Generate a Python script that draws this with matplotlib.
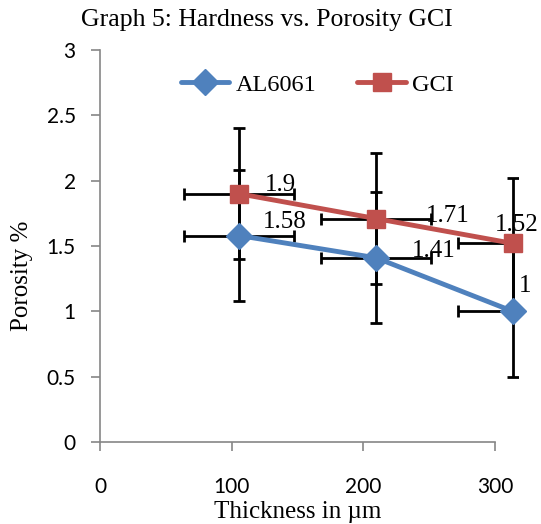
import matplotlib
matplotlib.use("Agg")
import matplotlib.pyplot as plt
from matplotlib.transforms import Bbox, TransformedBbox

# data
thickness = [100, 200, 300]
al6061 = [1.58, 1.41, 1.0]
gci = [1.9, 1.71, 1.52]
y_err = 0.5
x_err = 40
al_labels = ["1.58", "1.41", "1"]
gci_labels = ["1.9", "1.71", "1.52"]

x_ticks = [0, 100, 200, 300]
y_ticks = [0, 0.5, 1, 1.5, 2, 2.5, 3]

BLUE = "#4F81BD"
RED = "#C0504D"
GREY = "#868686"
SERIF = "Liberation Serif"
SANS = "Lato"

fig = plt.figure(figsize=(5.41, 5.24), dpi=100)
ax = fig.add_axes([100 / 541, 82 / 524, 395 / 541, 392 / 524])
ax.set_xlim(0, 300)
ax.set_ylim(0, 3)
ax.set_xticks(x_ticks)
ax.set_yticks(y_ticks)
ax.set_yticklabels(["0", "0.5", "1", "1.5", "2", "2.5", "3"])
for s in ["top", "right"]:
    ax.spines[s].set_visible(False)
for s in ["left", "bottom"]:
    ax.spines[s].set_color(GREY)
    ax.spines[s].set_linewidth(1.2)
ax.tick_params(axis="both", direction="out", color=GREY, length=6.5, width=1.2)
ax.tick_params(axis="y", pad=11)
ax.tick_params(axis="x", pad=19)
for lab in ax.get_xticklabels() + ax.get_yticklabels():
    lab.set_family(SANS)
    lab.set_fontsize(15)

fig.text(267 / 541, 1 - 20 / 524, "Graph 5: Hardness vs. Porosity GCI", family=SERIF,
         fontsize=18.5, ha="center", va="center")
ax.set_xlabel("Thickness in \u00b5m", family=SERIF, fontsize=18, va="center")
ax.xaxis.set_label_coords(0.501, -0.178)
ax.set_ylabel("Porosity %", family=SERIF, fontsize=18, va="center")
ax.yaxis.set_label_coords(-0.197, 0.423)

# series sit on a slightly different scale than the printed axis
ax2 = ax.twiny()
ax2.set_xlim(-1.5, 287)
ax2.set_ylim(0, 3)
ax2.axis("off")

# plot area ends just past the last point, like the original
clip = TransformedBbox(Bbox([[-20, -1], [304, 4]]), ax2.transData)

for ys in [al6061, gci]:
    eb = ax2.errorbar(thickness, ys, xerr=x_err, yerr=y_err, fmt="none", ecolor="black",
                      elinewidth=2, capsize=4.5, capthick=2, zorder=2)
    for art in eb.lines[1] + eb.lines[2]:
        art.set_clip_box(clip)
        art.set_clip_on(True)

ax2.plot(thickness, al6061, color=BLUE, lw=3.5, marker="D", ms=13, label="AL6061",
         solid_capstyle="round", clip_on=False, zorder=3)
ax2.plot(thickness, gci, color=RED, lw=3.5, marker="s", ms=13, label="GCI",
         solid_capstyle="round", clip_on=False, zorder=3)

al_off = [(33, 10), (42, 5), (9, 18)]
gci_off = [(30, 6), (52, 2), (3, 13)]
for x, y, t, o in zip(thickness, al6061, al_labels, al_off):
    ax2.annotate(t, (x, y), xytext=o, textcoords="offset points", ha="center", va="center",
                 family=SERIF, fontsize=18, zorder=4, annotation_clip=False)
for x, y, t, o in zip(thickness, gci, gci_labels, gci_off):
    ax2.annotate(t, (x, y), xytext=o, textcoords="offset points", ha="center", va="center",
                 family=SERIF, fontsize=18, zorder=4, annotation_clip=False)

leg = ax2.legend(loc="upper center", bbox_to_anchor=(0.55, 0.995), ncol=2, frameon=False,
                 prop={"family": SERIF, "size": 17.5}, handlelength=2.0,
                 handletextpad=0.25, columnspacing=1.7)

fig.savefig("out.png", dpi=100)
